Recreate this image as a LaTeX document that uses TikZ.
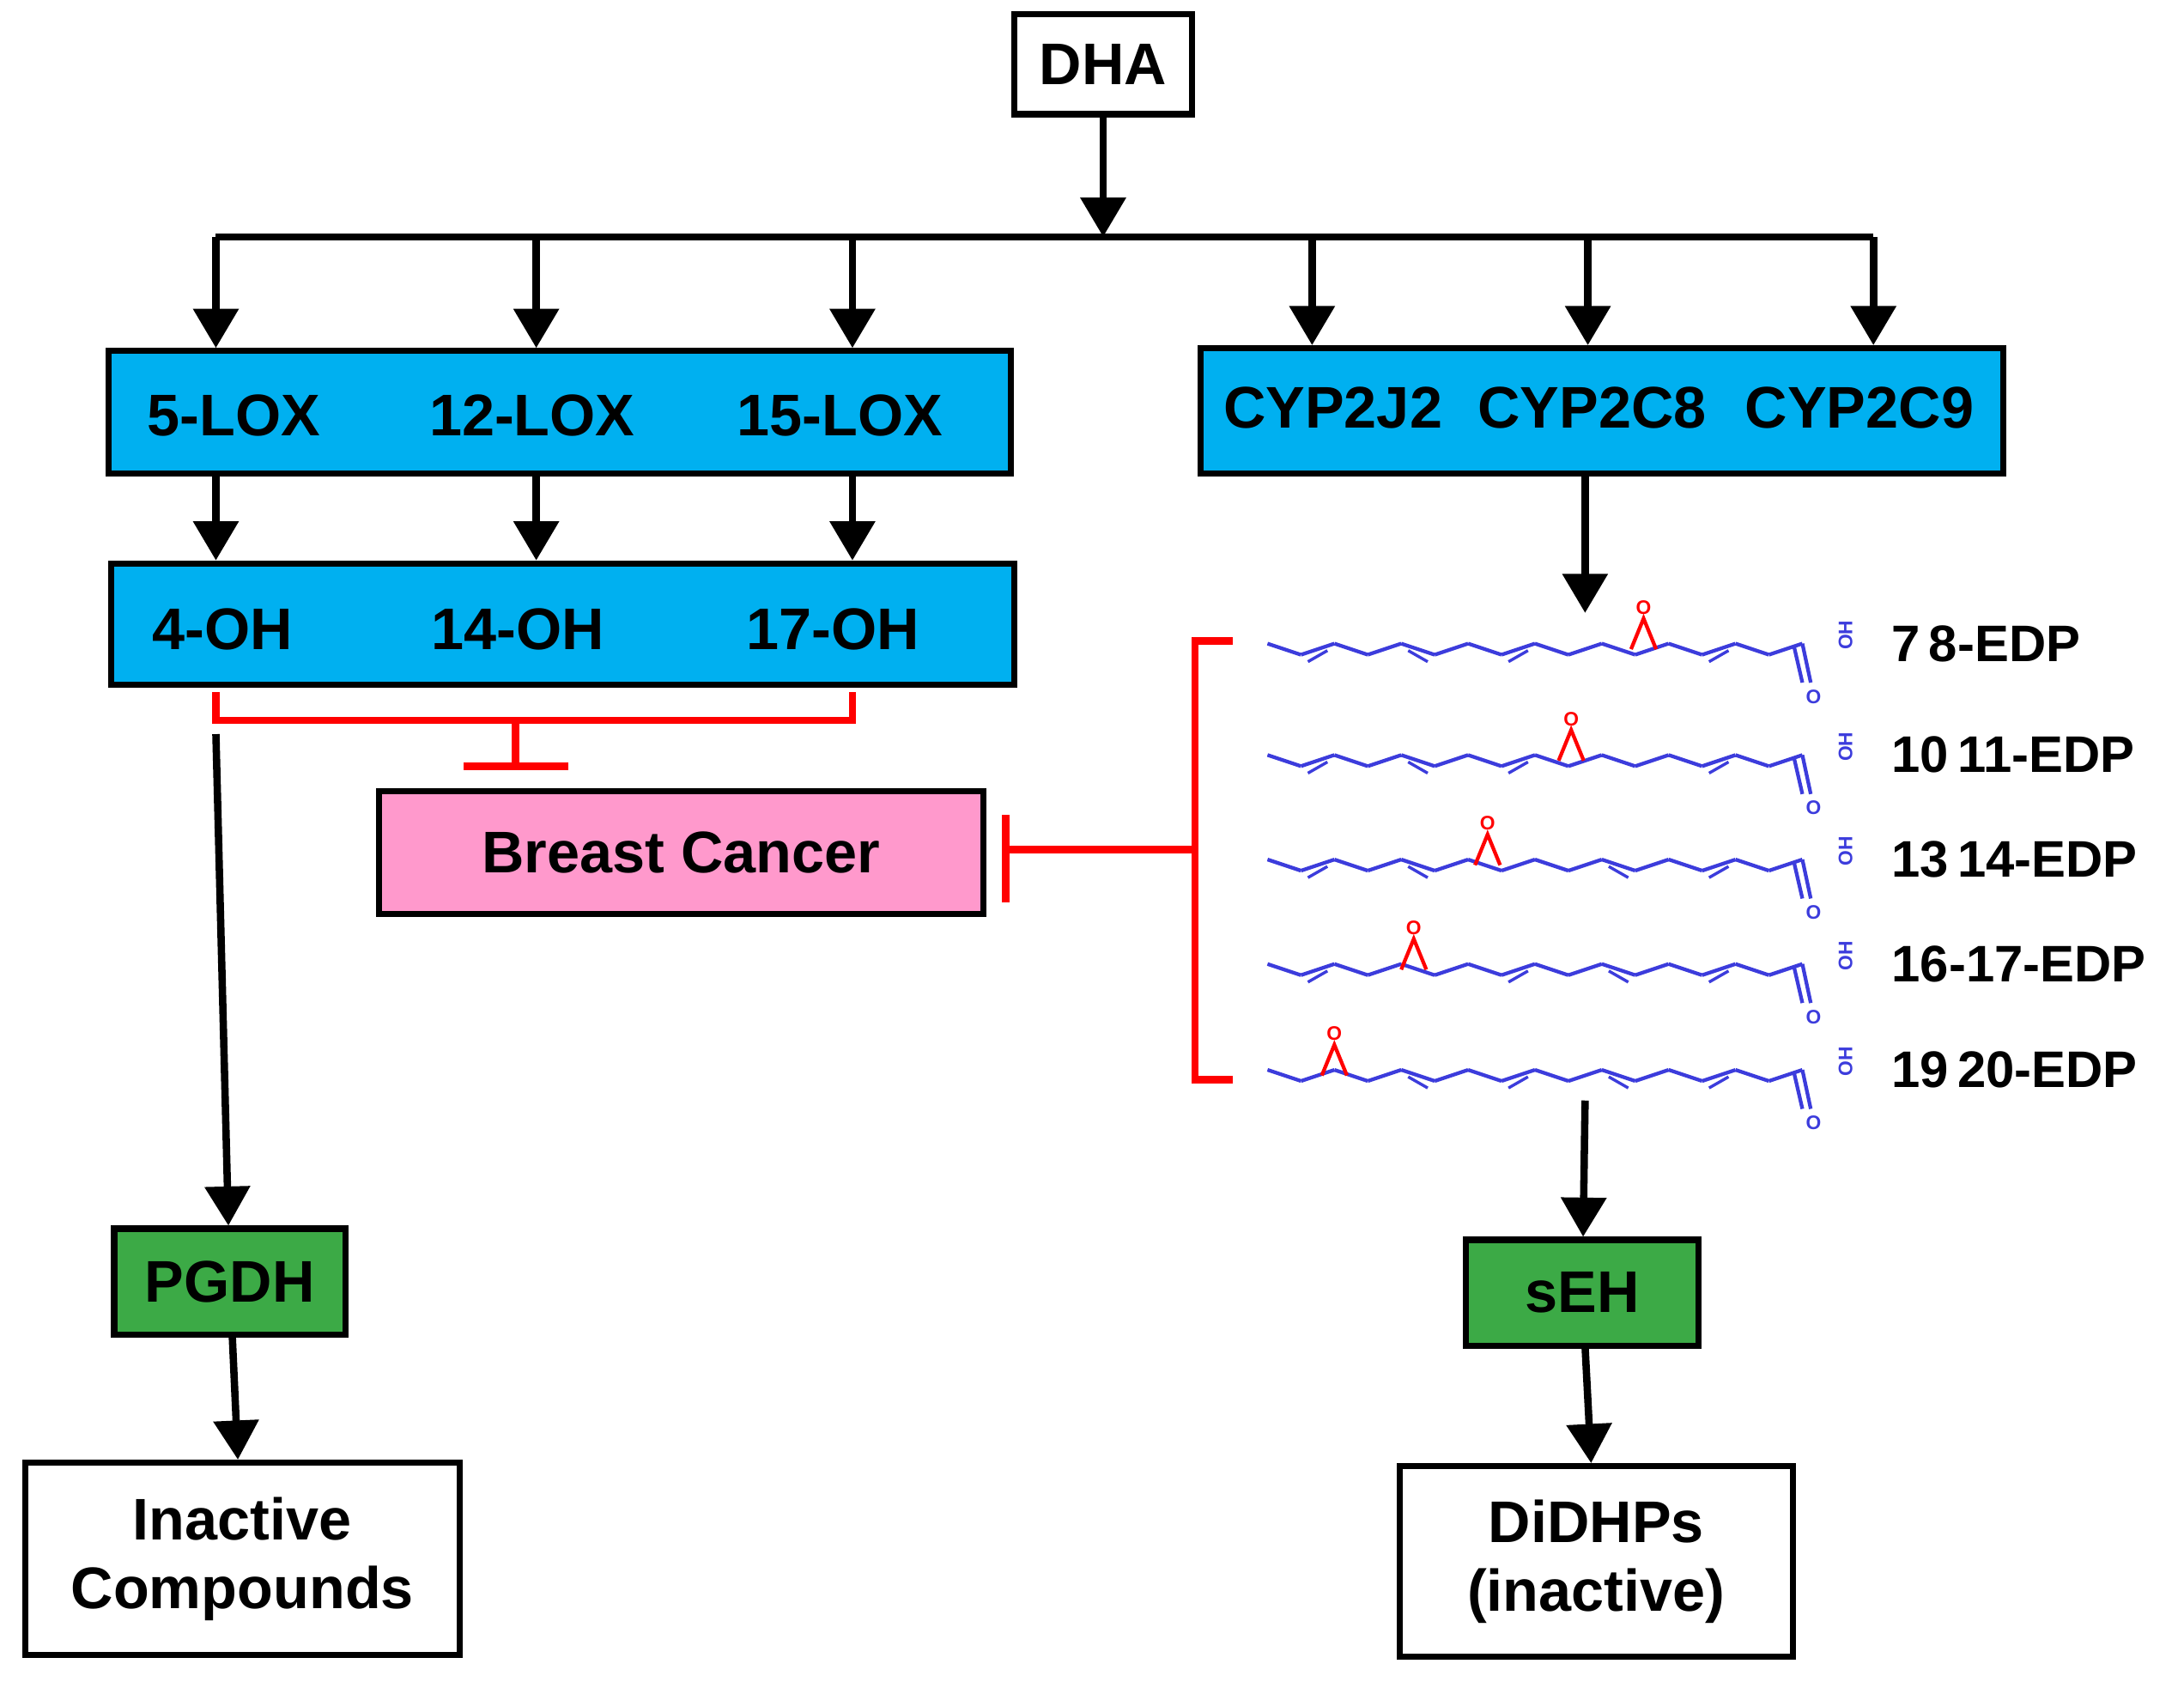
\documentclass[tikz,border=0pt]{standalone}
\usepackage{fontspec}
\setmainfont{Liberation Sans}
\usetikzlibrary{arrows.meta}
\definecolor{boxblue}{RGB}{0,176,240}
\definecolor{boxgreen}{RGB}{60,170,70}
\definecolor{boxpink}{RGB}{255,153,204}
\definecolor{chain}{RGB}{60,60,220}
\tikzset{
  box/.style={draw, line width=2.5pt, inner sep=0pt, font=\fontsize{24}{28}\selectfont\bfseries},
  arr/.style={line width=3pt, -{Triangle[length=16pt,width=18pt]}},
  inh/.style={draw=red, line width=3pt},
  lab/.style={anchor=west, font=\fontsize{21}{25}\selectfont\bfseries},
  txt/.style={font=\fontsize{24}{28}\selectfont\bfseries},
}
\begin{document}
\begin{tikzpicture}[x=0.02cm, y=-0.02cm]
\useasboundingbox (0,0) rectangle (1568,1207);
% boxes
\node[box, minimum width=128*0.02cm, minimum height=72*0.02cm] (dha) at (792,46) {DHA};
\node[box, fill=boxblue, minimum width=648*0.02cm, minimum height=88*0.02cm] (lox) at (402,296) {};
\node[txt] (l5) at (168,298) {5-LOX};
\node[txt] (l12) at (382,298) {12-LOX};
\node[txt] (l15) at (603,298) {15-LOX};
\node[box, fill=boxblue, minimum width=576*0.02cm, minimum height=90*0.02cm] (cyp) at (1150,295) {};
\node[txt] (c1) at (957,293) {CYP2J2};
\node[txt] (c2) at (1143,293) {CYP2C8};
\node[txt] (c3) at (1335,293) {CYP2C9};
\node[box, fill=boxblue, minimum width=648*0.02cm, minimum height=87*0.02cm] (oh) at (404,448) {};
\node[txt] (o4) at (160,452) {4-OH};
\node[txt] (o14) at (372,452) {14-OH};
\node[txt] (o17) at (598,452) {17-OH};
\node[box, fill=boxpink, minimum width=434*0.02cm, minimum height=88*0.02cm] (bc) at (489,612) {Breast Cancer};
\node[box, fill=boxgreen, minimum width=166*0.02cm, minimum height=76*0.02cm] (pgdh) at (165,920) {PGDH};
\node[box, minimum width=312*0.02cm, minimum height=138*0.02cm, align=center] (inact) at (174,1119) {Inactive\\Compounds};
\node[box, fill=boxgreen, minimum width=167*0.02cm, minimum height=76*0.02cm] (seh) at (1136,928) {sEH};
\node[box, minimum width=282*0.02cm, minimum height=137*0.02cm, align=center] (didhp) at (1146,1121) {DiDHPs\\(inactive)};
% coordinates
\coordinate (bar) at (792,170);
\coordinate (mol) at (1138,440);
\coordinate (molb) at (1138,790);
\coordinate (lsplit) at (155,527);
% DHA branching
\draw[arr] (dha) -- (bar);
\draw[line width=3pt] (155,170) -- (1345,170);
\foreach \x in {155,385,612} \draw[arr] (\x,170) -- (\x,0 |- lox.north);
\foreach \x in {942,1140,1345} \draw[arr] (\x,170) -- (\x,0 |- cyp.north);
\foreach \x in {155,385,612} \draw[arr] (\x,0 |- lox.south) -- (\x,0 |- oh.north);
\draw[arr] (1138,0 |- cyp.south) -- (mol);
\draw[arr] (lsplit) -- (pgdh);
\draw[arr] (pgdh) -- (inact);
\draw[arr] (molb) -- (seh);
\draw[arr] (seh) -- (didhp);
% inhibition
\draw[inh] (155,497) -- (155,517) -- (612,517) -- (612,497);
\draw[inh] (370,517) -- (370,550);
\draw[inh] (333,550) -- (408,550);
\draw[inh] (722,585) -- (722,648);
\draw[inh] (722,610) -- (858,610);
\draw[inh] (885,460) -- (858,460) -- (858,775) -- (885,775);
% molecules
\foreach \yo/\xe/\nm in {462/1180/7\,8-EDP, 542/1128/10\,11-EDP, 617/1068/13\,14-EDP, 692/1015/16-17-EDP, 768/958/19\,20-EDP}{
  \foreach \i in {0,...,15}{
    \pgfmathsetmacro{\xa}{910+24*\i}
    \pgfmathsetmacro{\xb}{934+24*\i}
    \pgfmathsetmacro{\ya}{\yo+8*mod(\i,2)}
    \pgfmathsetmacro{\yb}{\yo+8*mod(\i+1,2)}
    \draw[chain, line width=1.5pt] (\xa,\ya) -- (\xb,\yb);
    \pgfmathtruncatemacro{\db}{(mod(\i,3)==1) && (abs(\xa-\xe)>30) && (\i<14)}
    \ifnum\db=1
      \draw[chain, line width=1.2pt] (\xa+5,\ya+5) -- (\xb-5,\yb+5);
    \fi
  }
  \draw[red, line width=1.5pt] (\xe-9,\yo+4) -- (\xe,\yo-18) -- (\xe+9,\yo+4);
  \node[red, font=\footnotesize\bfseries, inner sep=0pt] at (\xe,\yo-26) {O};
  \draw[chain, line width=1.5pt] (1294,\yo) -- (1300,\yo+28);
  \draw[chain, line width=1.5pt] (1288,\yo+2) -- (1294,\yo+28);
  \node[chain, font=\footnotesize\bfseries, inner sep=0pt] at (1302,\yo+38) {O};
  \node[chain, font=\footnotesize\bfseries, inner sep=0pt, rotate=90] at (1325,\yo-6) {OH};
  \node[lab] at (1352,\yo) {\nm};
}
\end{tikzpicture}
\end{document}
